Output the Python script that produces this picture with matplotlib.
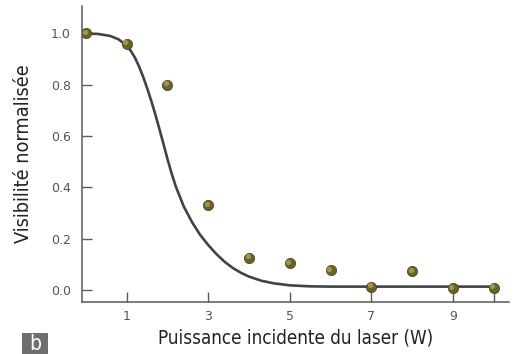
import matplotlib
matplotlib.use("Agg")
import matplotlib.pyplot as plt
from matplotlib.patches import Rectangle
import matplotlib.transforms as mtransforms

# Data points (measured visibility)
power_w = [0, 1, 2, 3, 4, 5, 6, 7, 8, 9, 10]
visibility = [1.0, 0.96, 0.80, 0.33, 0.125, 0.105, 0.078, 0.013, 0.074, 0.008, 0.009]

# Fitted curve
curve_x = [0, 0.3, 0.6, 0.8, 1.0, 1.1, 1.2, 1.3, 1.4, 1.5, 1.6, 1.7, 1.8, 1.9, 2.0,
           2.1, 2.2, 2.4, 2.6, 2.8, 3.0, 3.2, 3.4, 3.6, 3.8, 4.0, 4.3, 4.6, 5.0,
           5.5, 6.0, 7.0, 8.0, 9.0, 10.0]
curve_y = [1.0, 0.998, 0.99, 0.977, 0.952, 0.932, 0.906, 0.872, 0.832, 0.787, 0.738,
           0.685, 0.628, 0.57, 0.51, 0.455, 0.405, 0.325, 0.265, 0.215, 0.175, 0.14,
           0.11, 0.086, 0.067, 0.052, 0.036, 0.026, 0.018, 0.014, 0.013, 0.013,
           0.013, 0.013, 0.013]

x_ticks = [1, 3, 5, 7, 9, 10]
x_ticklabels = ["1", "3", "5", "7", "9", ""]
y_ticks = [0.0, 0.2, 0.4, 0.6, 0.8, 1.0]
y_ticklabels = ["0.0", "0.2", "0.4", "0.6", "0.8", "1.0"]

xlabel = "Puissance incidente du laser (W)"
ylabel = "Visibilité normalisée"
panel = "b"

fig = plt.figure(figsize=(5.18, 3.54), dpi=100)
ax = fig.add_axes([82 / 518, 52 / 354, 427 / 518, 296 / 354])

ax.plot(curve_x, curve_y, color="#404448", lw=1.9, solid_capstyle="round", zorder=2)

# spheres: dark base + light highlight offset up-left
ax.scatter(power_w, visibility, s=55, color="#6a6226", edgecolor="#45401a",
           linewidth=0.5, zorder=3)
hl = mtransforms.offset_copy(ax.transData, fig=fig, x=-1.0, y=1.0, units="points")
ax.scatter(power_w, visibility, s=14, color="#bcb26a", alpha=0.65,
           linewidth=0, zorder=4, transform=hl)

ax.set_xlim(-0.098, 10.38)
ax.set_ylim(-0.047, 1.107)

for s in ["top", "right"]:
    ax.spines[s].set_visible(False)
for s in ["left", "bottom"]:
    ax.spines[s].set_color("#5a5a5a")
    ax.spines[s].set_linewidth(1.1)

ax.set_xticks(x_ticks)
ax.set_xticklabels(x_ticklabels)
ax.set_yticks(y_ticks)
ax.set_yticklabels(y_ticklabels)
ax.tick_params(axis="both", direction="in", length=7, width=1.0, color="#5a5a5a",
               labelcolor="#555555", labelsize=9)
ax.tick_params(axis="x", pad=6)
ax.tick_params(axis="y", pad=8)

lab_font = dict(family=["DejaVu Sans"], stretch="condensed", fontsize=13.5,
                color="#222222")
ax.set_xlabel(xlabel, labelpad=4, **lab_font)
ax.set_ylabel(ylabel, labelpad=13, fontsize=14.2,
              **{k: v for k, v in lab_font.items() if k != "fontsize"})

fig.patches.append(Rectangle((22 / 518, 0), 26 / 518, 21 / 354,
                             transform=fig.transFigure, facecolor="#6e6e6e",
                             edgecolor="none"))
fig.text(35 / 518, 10 / 354, panel, color="white", fontsize=15, ha="center",
         va="center", family=["DejaVu Sans"], stretch="condensed")

fig.savefig("out.png", dpi=100)
